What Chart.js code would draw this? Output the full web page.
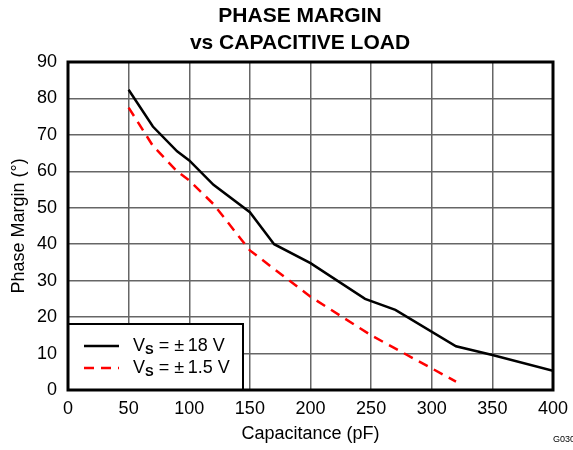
<!DOCTYPE html>
<html>
<head>
<meta charset="utf-8">
<script src="https://cdn.jsdelivr.net/npm/chart.js@4"></script>
<style>
  html, body { margin: 0; padding: 0; background: #fff; }
  #chart { display: block; }
</style>
</head>
<body>
<canvas id="chart" width="573" height="450"></canvas>
<script>
const titleLines = ["PHASE MARGIN", "vs CAPACITIVE LOAD"];

// Vs = +-18 V
const capHigh = [50, 70, 90, 100, 120, 150, 170, 200, 245, 270, 320, 350, 400];
const pmHigh = [82.4, 72.3, 65.5, 63, 56.3, 48.8, 40, 34.8, 25, 22, 12, 9.6, 5.3];

// Vs = +-1.5 V
const capLow = [50, 70, 90, 100, 120, 150, 200, 250, 320];
const pmLow = [77.5, 67, 60, 57.5, 51, 38.3, 25.6, 15, 2.3];

const xTicks = [0, 50, 100, 150, 200, 250, 300, 350, 400];
const yTicks = [0, 10, 20, 30, 40, 50, 60, 70, 80, 90];

const FONT = "'Liberation Sans', Arial, sans-serif";

function toPoints(xs, ys) {
  return xs.map((x, i) => ({ x: x, y: ys[i] }));
}

// title, box, legend and figure id drawn over the plot
const frame = {
  id: "frame",
  afterDraw(chart) {
    const ctx = chart.ctx;
    const a = chart.chartArea;
    ctx.save();

    ctx.fillStyle = "#000";
    ctx.textAlign = "center";
    ctx.textBaseline = "middle";
    ctx.font = "bold 21px " + FONT;
    titleLines.forEach((t, i) => ctx.fillText(t, 300, 16 + i * 27));

    // legend in lower-left corner
    const bx = a.left, bw = 175, bh = 66, by = a.bottom - bh;
    ctx.fillStyle = "#fff";
    ctx.fillRect(bx, by, bw, bh);
    ctx.strokeStyle = "#000";
    ctx.lineWidth = 2;
    ctx.strokeRect(bx, by, bw, bh);

    const volts = ["18 V", "1.5 V"];
    chart.data.datasets.forEach((ds, i) => {
      const yy = by + 22 + i * 22;
      ctx.beginPath();
      ctx.setLineDash(ds.borderDash || []);
      ctx.strokeStyle = ds.borderColor;
      ctx.lineWidth = 2.5;
      ctx.moveTo(bx + 16, yy);
      ctx.lineTo(bx + 51, yy);
      ctx.stroke();
      ctx.setLineDash([]);

      ctx.fillStyle = "#000";
      ctx.textBaseline = "middle";
      ctx.textAlign = "left";
      let tx = bx + 65;
      ctx.font = "18px " + FONT;
      ctx.fillText("V", tx, yy);
      tx += ctx.measureText("V").width;
      ctx.font = "bold 13px " + FONT;
      ctx.fillText("S", tx, yy + 4);
      tx += ctx.measureText("S").width;
      ctx.font = "18px " + FONT;
      ctx.fillText(" = \u00b1\u2009" + volts[i], tx, yy);
    });

    // plot border
    ctx.strokeStyle = "#000";
    ctx.lineWidth = 3;
    ctx.strokeRect(a.left, a.top, a.right - a.left, a.bottom - a.top);

    ctx.font = "9px " + FONT;
    ctx.fillStyle = "#000";
    ctx.textAlign = "left";
    ctx.textBaseline = "middle";
    ctx.fillText("G030", 553, 440);
    ctx.restore();
  }
};

new Chart(document.getElementById("chart").getContext("2d"), {
  type: "line",
  data: {
    datasets: [
      {
        label: "Vs = \u00b118 V",
        data: toPoints(capHigh, pmHigh),
        borderColor: "#000",
        borderWidth: 2.5,
        pointRadius: 0,
        tension: 0,
        fill: false,
      },
      {
        label: "Vs = \u00b11.5 V",
        data: toPoints(capLow, pmLow),
        borderColor: "#ff0000",
        borderWidth: 2.5,
        borderDash: [10, 7],
        pointRadius: 0,
        tension: 0,
        fill: false,
      },
    ],
  },
  options: {
    responsive: false,
    animation: false,
    layout: { autoPadding: false, padding: { left: 0, right: 20, top: 62, bottom: 0 } },
    plugins: {
      legend: { display: false },
      tooltip: { enabled: false },
      title: { display: false },
    },
    scales: {
      x: {
        type: "linear",
        min: 0,
        max: 400,
        afterBuildTicks: (s) => { s.ticks = xTicks.map((v) => ({ value: v })); },
        afterFit: (s) => {
          s.height = 60;
          s.paddingLeft = 0;
          s.paddingRight = 0;
        },
        ticks: { color: "#000", font: { family: FONT, size: 18 }, padding: 8, maxRotation: 0 },
        grid: { color: "#666", lineWidth: 1.5, drawTicks: false },
        border: { display: false },
        title: {
          display: true,
          text: "Capacitance (pF)",
          color: "#000",
          font: { family: FONT, size: 18 },
          padding: { top: 5, bottom: 5 },
        },
      },
      y: {
        type: "linear",
        min: 0,
        max: 90,
        afterBuildTicks: (s) => { s.ticks = yTicks.map((v) => ({ value: v })); },
        afterFit: (s) => {
          s.width = 68;
          s.paddingTop = 0;
          s.paddingBottom = 0;
        },
        ticks: { color: "#000", font: { family: FONT, size: 18 }, padding: 11 },
        grid: { color: "#666", lineWidth: 1.5, drawTicks: false },
        border: { display: false },
        title: {
          display: true,
          text: "Phase Margin (\u00b0)",
          color: "#000",
          font: { family: FONT, size: 18 },
          padding: { top: 8, bottom: 8 },
        },
      },
    },
  },
  plugins: [frame],
});
</script>
</body>
</html>
